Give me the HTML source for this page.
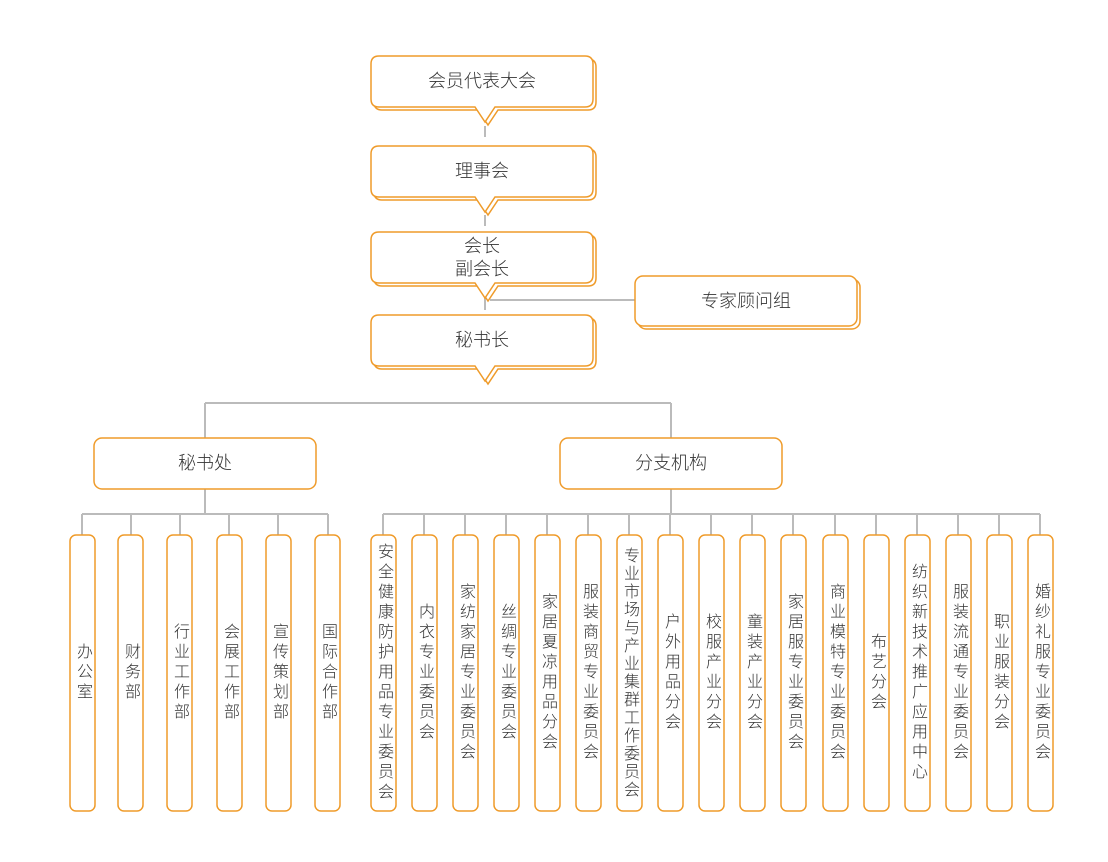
<!DOCTYPE html>
<html><head><meta charset="utf-8"><style>
body{margin:0;background:#fff;}
#c{position:relative;width:1108px;height:862px;overflow:hidden;font-family:"Liberation Sans","Noto Sans CJK SC",sans-serif;color:#333;}
.t{position:absolute;display:flex;align-items:center;justify-content:center;text-align:center;font-size:18px;line-height:23px;font-weight:300;}
.v{position:absolute;top:535px;height:276px;width:26px;display:flex;align-items:center;justify-content:center;}
.v span{writing-mode:vertical-rl;text-orientation:upright;font-size:16px;letter-spacing:4px;line-height:20px;white-space:nowrap;font-weight:300;margin-left:-2px;}
</style></head><body><div id="c">
<svg width="1108" height="862" style="position:absolute;left:0;top:0">
<defs>
<path id="b" d="M379,56 H585 Q593,56 593,64 V99 Q593,107 585,107 H495 L485,122 L475,107 H379 Q371,107 371,99 V64 Q371,56 379,56 Z"/>
</defs>
<g stroke="#bbb" stroke-width="2" fill="none">
<path d="M485,126V137 M485,215V226 M485,298V310 M490,300H635"/>
<path d="M205,403H671 M205,403V438 M671,403V438"/>
<path d="M205,489V514 M82,514H328 M82,514V535 M131,514V535 M180,514V535 M229,514V535 M278,514V535 M328,514V535"/>
<path d="M671,489V514 M383,514H1040"/>
<path d="M383,514V535 M424,514V535 M465,514V535 M506,514V535 M547,514V535 M588,514V535 M629,514V535 M670,514V535 M711,514V535 M752,514V535 M793,514V535 M835,514V535 M876,514V535 M917,514V535 M958,514V535 M999,514V535 M1040,514V535"/>
</g>
<g stroke="#ef9b2a" stroke-width="1.5" fill="#fff">
<use href="#b" transform="translate(3,3)"/><use href="#b"/>
<use href="#b" transform="translate(3,93)"/><use href="#b" transform="translate(0,90)"/>
<use href="#b" transform="translate(3,179)"/><use href="#b" transform="translate(0,176)"/>
<use href="#b" transform="translate(3,262)"/><use href="#b" transform="translate(0,259)"/>
<rect x="638" y="279" width="222" height="50" rx="8"/><rect x="635" y="276" width="222" height="50" rx="8"/>
<rect x="94" y="438" width="222" height="51" rx="8"/>
<rect x="560" y="438" width="222" height="51" rx="8"/>
<g>
<rect x="70" y="535" width="25" height="276" rx="6"/>
<rect x="118" y="535" width="25" height="276" rx="6"/>
<rect x="167" y="535" width="25" height="276" rx="6"/>
<rect x="217" y="535" width="25" height="276" rx="6"/>
<rect x="266" y="535" width="25" height="276" rx="6"/>
<rect x="315" y="535" width="25" height="276" rx="6"/>
</g>
<g>
<rect x="371" y="535" width="25" height="276" rx="6"/>
<rect x="412" y="535" width="25" height="276" rx="6"/>
<rect x="453" y="535" width="25" height="276" rx="6"/>
<rect x="494" y="535" width="25" height="276" rx="6"/>
<rect x="535" y="535" width="25" height="276" rx="6"/>
<rect x="576" y="535" width="25" height="276" rx="6"/>
<rect x="617" y="535" width="25" height="276" rx="6"/>
<rect x="658" y="535" width="25" height="276" rx="6"/>
<rect x="699" y="535" width="25" height="276" rx="6"/>
<rect x="740" y="535" width="25" height="276" rx="6"/>
<rect x="781" y="535" width="25" height="276" rx="6"/>
<rect x="823" y="535" width="25" height="276" rx="6"/>
<rect x="864" y="535" width="25" height="276" rx="6"/>
<rect x="905" y="535" width="25" height="276" rx="6"/>
<rect x="946" y="535" width="25" height="276" rx="6"/>
<rect x="987" y="535" width="25" height="276" rx="6"/>
<rect x="1028" y="535" width="25" height="276" rx="6"/>
</g>
</g>
</svg>
<div class="t" style="left:371px;top:56px;width:222px;height:51px">会员代表大会</div>
<div class="t" style="left:371px;top:146px;width:222px;height:51px">理事会</div>
<div class="t" style="left:371px;top:232px;width:222px;height:51px">会长<br>副会长</div>
<div class="t" style="left:371px;top:315px;width:222px;height:51px">秘书长</div>
<div class="t" style="left:635px;top:276px;width:222px;height:50px">专家顾问组</div>
<div class="t" style="left:94px;top:438px;width:222px;height:51px">秘书处</div>
<div class="t" style="left:560px;top:438px;width:222px;height:51px">分支机构</div>
<div class="v" style="left:70px"><span>办公室</span></div>
<div class="v" style="left:118px"><span>财务部</span></div>
<div class="v" style="left:167px"><span>行业工作部</span></div>
<div class="v" style="left:217px"><span>会展工作部</span></div>
<div class="v" style="left:266px"><span>宣传策划部</span></div>
<div class="v" style="left:315px"><span>国际合作部</span></div>
<div class="v" style="left:371px"><span>安全健康防护用品专业委员会</span></div>
<div class="v" style="left:412px"><span>内衣专业委员会</span></div>
<div class="v" style="left:453px"><span>家纺家居专业委员会</span></div>
<div class="v" style="left:494px"><span>丝绸专业委员会</span></div>
<div class="v" style="left:535px"><span>家居夏凉用品分会</span></div>
<div class="v" style="left:576px"><span>服装商贸专业委员会</span></div>
<div class="v" style="left:617px"><span style="letter-spacing:2px">专业市场与产业集群工作委员会</span></div>
<div class="v" style="left:658px"><span>户外用品分会</span></div>
<div class="v" style="left:699px"><span>校服产业分会</span></div>
<div class="v" style="left:740px"><span>童装产业分会</span></div>
<div class="v" style="left:781px"><span>家居服专业委员会</span></div>
<div class="v" style="left:823px"><span>商业模特专业委员会</span></div>
<div class="v" style="left:864px"><span>布艺分会</span></div>
<div class="v" style="left:905px"><span>纺织新技术推广应用中心</span></div>
<div class="v" style="left:946px"><span>服装流通专业委员会</span></div>
<div class="v" style="left:987px"><span>职业服装分会</span></div>
<div class="v" style="left:1028px"><span>婚纱礼服专业委员会</span></div>
</div></body></html>
